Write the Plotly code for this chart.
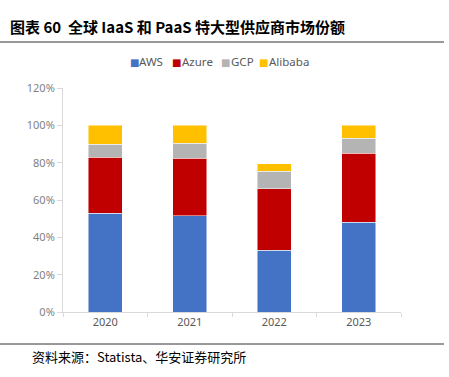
import plotly.graph_objects as go

years = ["2020", "2021", "2022", "2023"]
aws = [53, 51.5, 33, 48]
azure = [30, 31, 33, 37]
gcp = [7, 8, 9.5, 8]
alibaba = [10, 9.5, 4, 7]
series_names = ["AWS", "Azure", "GCP", "Alibaba"]
colors = ["#4472C4", "#C00000", "#B4B4B4", "#FFC000"]
y_ticks = [0, 20, 40, 60, 80, 100, 120]
y_tick_labels = ["0%", "20%", "40%", "60%", "80%", "100%", "120%"]

W, H = 449, 377
L, R, T, B = 63, 48, 88, 65
pw, ph = W - L - R, H - T - B

def px_x(x):
    return (x - L) / pw

def px_y(y):
    return (H - B - y) / ph

fig = go.Figure()
for name, vals, c in zip(series_names, [aws, azure, gcp, alibaba], colors):
    fig.add_trace(go.Bar(
        x=years, y=vals, name=name,
        marker=dict(color=c, line=dict(color="rgba(255,255,255,0.6)", width=0.8)),
    ))

fig.update_layout(
    width=W, height=H,
    barmode="stack", bargap=0.6,
    margin=dict(l=L, r=R, t=T, b=B, autoexpand=False),
    paper_bgcolor="white", plot_bgcolor="white",
    font=dict(family="Noto Sans, DejaVu Sans, sans-serif", size=11, color="#595959"),
    showlegend=False,
    xaxis=dict(type="category", showline=True, linecolor="#D9D9D9", linewidth=1,
               ticks="outside", tickson="boundaries", ticklen=4, tickcolor="#D9D9D9",
               tickfont=dict(size=11, color="#595959"), showgrid=False),
    yaxis=dict(range=[0, 120], tickvals=y_ticks, ticktext=y_tick_labels,
               showline=True, linecolor="#D9D9D9", linewidth=1,
               ticks="outside", ticklen=5, tickcolor="#D9D9D9",
               showgrid=False, zeroline=False,
               tickfont=dict(size=11, color="#7F7F7F")),
)

# legend drawn as text items (square + label) positioned like the reference
legend_sq_x = [130, 172, 221, 259]
legend_tx_x = [139, 182, 231, 269]
for sx, tx, lab, c in zip(legend_sq_x, legend_tx_x, series_names, colors):
    fig.add_annotation(xref="paper", yref="paper", x=px_x(sx - 1), y=px_y(62),
                       xanchor="left", yanchor="middle", showarrow=False, borderpad=0,
                       text="■", font=dict(size=10, color=c))
    fig.add_annotation(xref="paper", yref="paper", x=px_x(tx - 1), y=px_y(62),
                       xanchor="left", yanchor="middle", showarrow=False, borderpad=0,
                       text=lab, font=dict(size=11.5, color="#595959"))

fig.add_annotation(xref="paper", yref="paper", x=px_x(8), y=px_y(27),
                   xanchor="left", yanchor="middle", showarrow=False,
                   text="<b>图表 60  全球 IaaS 和 PaaS 特大型供应商市场份额</b>",
                   font=dict(family="Noto Sans CJK SC", size=15, color="#000000"))
fig.add_annotation(xref="paper", yref="paper", x=px_x(30), y=px_y(356),
                   xanchor="left", yanchor="middle", showarrow=False,
                   text="资料来源：Statista、华安证券研究所",
                   font=dict(family="Noto Sans CJK SC", size=13, color="#000000"))
fig.add_shape(type="line", xref="paper", yref="paper",
              x0=px_x(0), x1=px_x(444), y0=px_y(42), y1=px_y(42),
              line=dict(color="#333333", width=1))
fig.add_shape(type="line", xref="paper", yref="paper",
              x0=px_x(0), x1=px_x(444), y0=px_y(344), y1=px_y(344),
              line=dict(color="#333333", width=1))

fig.write_html("out.html", config={"displayModeBar": False},
               post_script="document.body.style.margin='0';")
